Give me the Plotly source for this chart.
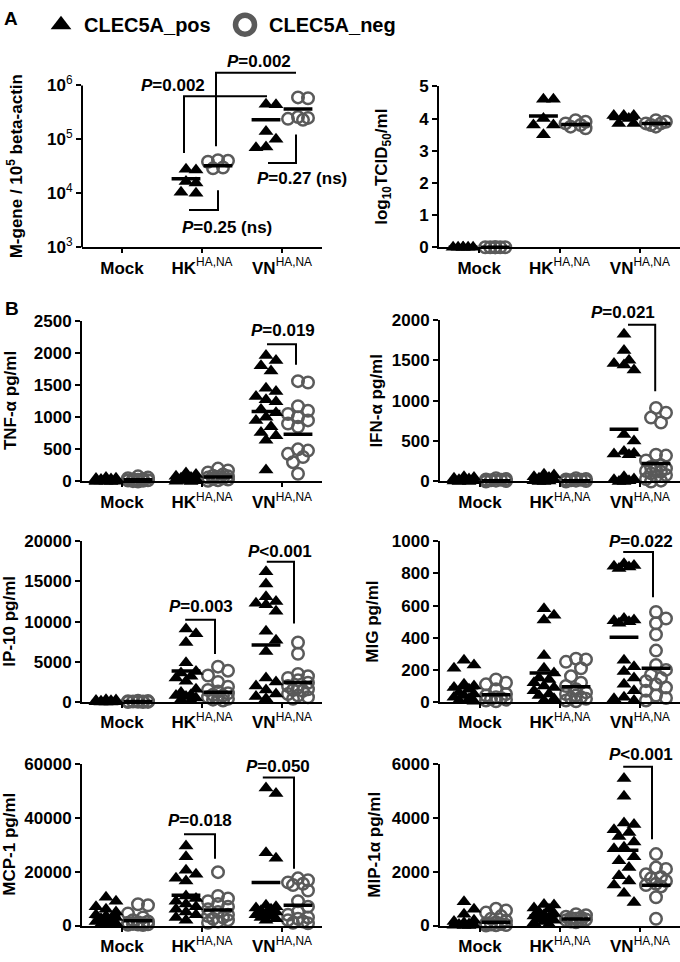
import math
import plotly.graph_objects as go

# ---------------- data ----------------
categories = ["Mock", "HK<sup><span style='font-weight:normal'>HA,NA</span></sup>",
              "VN<sup><span style='font-weight:normal'>HA,NA</span></sup>"]
series_names = ["CLEC5A_pos", "CLEC5A_neg"]

# A: M-gene / 10^5 beta-actin (log axis)
mgene_pos = [[], [28000, 27000, 16500, 15500, 10500, 10000],
             [450000, 440000, 140000, 100000, 72000, 70000]]
mgene_neg = [[], [41000, 40000, 38500, 30000, 29000],
             [600000, 580000, 260000, 250000, 240000, 230000]]
mgene_pos_mean = [None, 18700, 230000]
mgene_neg_mean = [None, 32500, 365000]

# A: log10 TCID50/ml
tcid_pos = [[0, 0, 0, 0, 0, 0], [4.6, 4.6, 4.0, 3.8, 3.8, 3.5], [4.1, 4.1, 4.1, 4.0, 3.85, 3.85]]
tcid_neg = [[0, 0, 0, 0, 0, 0], [3.95, 3.9, 3.85, 3.75, 3.7, 3.8], [3.95, 3.9, 3.85, 3.8, 3.75, 3.85]]
tcid_pos_mean = [0, 4.08, 4.0]
tcid_neg_mean = [0, 3.82, 3.85]

# B: TNF-alpha
tnf_pos = [[60, 50, 45, 40, 30, 25, 20, 15, 10, 8, 5, 3, 0, 0],
           [130, 110, 80, 60, 50, 45, 40, 30, 25, 20, 15, 10, 5, 0],
           [1960, 1880, 1800, 1720, 1450, 1400, 1320, 1270, 1240, 1120, 1070, 1000, 950, 850, 760, 710, 640, 180]]
tnf_neg = [[80, 60, 50, 40, 30, 25, 20, 15, 10, 5, 0],
           [200, 170, 140, 110, 90, 80, 70, 60, 50, 40, 30, 20, 10],
           [1560, 1540, 1170, 1100, 1050, 1000, 950, 900, 850, 500, 480, 430, 380, 300, 120]]
tnf_pos_mean = [20, 50, 1090]
tnf_neg_mean = [25, 70, 735]

# B: IFN-alpha
ifn_pos = [[60, 50, 40, 30, 20, 15, 10, 5, 0, 0],
           [90, 80, 60, 50, 40, 30, 20, 10, 5, 0, 0],
           [1820, 1620, 1500, 1460, 1440, 1380, 580, 500, 370, 350, 340, 330, 60, 30, 20, 10, 0, 0]]
ifn_neg = [[40, 30, 25, 20, 15, 10, 5, 0],
           [40, 30, 25, 20, 15, 10, 5, 0],
           [910, 850, 790, 730, 330, 320, 260, 200, 180, 160, 150, 130, 120, 100, 80, 60, 30, 10, 0]]
ifn_pos_mean = [10, 15, 646]
ifn_neg_mean = [10, 10, 222]

# B: IP-10
ip10_pos = [[300, 250, 200, 150, 100, 80, 50, 30, 20, 10, 0],
            [9100, 8500, 7400, 4900, 3800, 3600, 3200, 3000, 2600, 1600, 1200, 900, 800, 700, 500, 300, 200],
            [16200, 14700, 13100, 12500, 12300, 12100, 11300, 8800, 7700, 6300, 3000, 2500, 2000, 1500, 1000, 700, 400]]
ip10_neg = [[150, 120, 100, 80, 60, 40, 20, 10, 0],
            [4400, 3900, 3300, 2500, 1900, 1500, 1300, 1100, 900, 800, 600, 500, 400, 300, 200],
            [7400, 6000, 3500, 3200, 3000, 2700, 2400, 2000, 1800, 1600, 1500, 1400, 1000, 800, 600, 400]]
ip10_pos_mean = [80, 3860, 7100]
ip10_neg_mean = [60, 1220, 2440]

# B: MIG
mig_pos = [[260, 230, 210, 110, 100, 90, 80, 60, 50, 40, 30, 20, 10, 5],
           [580, 540, 510, 290, 210, 180, 150, 140, 120, 100, 90, 70, 50, 40, 20, 10],
           [860, 850, 845, 840, 830, 520, 510, 505, 500, 490, 260, 220, 190, 150, 110, 70, 30, 20, 10]]
mig_neg = [[140, 120, 110, 80, 50, 40, 30, 25, 20, 15, 10, 5],
           [270, 265, 250, 210, 160, 120, 100, 80, 60, 50, 40, 30, 25, 20, 10, 5],
           [560, 520, 490, 420, 320, 230, 200, 170, 150, 130, 110, 90, 70, 40, 25, 10]]
mig_pos_mean = [89, 180, 403]
mig_neg_mean = [45, 95, 210]

# B: MCP-1
mcp_pos = [[10500, 9000, 7000, 6000, 5000, 4000, 3500, 3000, 2500, 2000, 1500, 1000, 800, 500, 300],
           [29500, 25500, 20500, 19000, 17500, 16500, 11000, 10000, 9000, 8000, 7000, 6000, 5000, 4000, 3000, 2000],
           [51000, 49000, 27000, 25000, 7500, 7000, 6500, 6000, 5500, 5000, 4500, 4000, 3500, 3000, 2500, 2000]]
mcp_neg = [[7900, 7500, 4500, 3000, 2000, 1500, 1200, 1000, 800, 600, 500, 400, 300, 200],
           [19800, 11000, 10000, 9000, 8000, 7000, 6000, 5000, 4000, 3500, 3000, 2500, 2000, 1500, 1000],
           [17500, 16800, 16000, 15500, 15000, 13000, 9000, 7000, 5000, 4000, 3000, 2500, 2000, 1500, 1000, 800]]
mcp_pos_mean = [3300, 11200, 16000]
mcp_neg_mean = [1800, 5800, 7500]

# B: MIP-1alpha
mip_pos = [[880, 600, 420, 200, 150, 100, 60, 40, 20, 10, 0, 0],
           [780, 760, 650, 600, 500, 450, 400, 350, 300, 250, 200, 150, 100, 50],
           [5450, 4800, 3800, 3750, 3550, 3450, 3300, 3100, 2900, 2850, 2550, 2400, 2150, 1850, 1650, 1500, 1200, 850]]
mip_neg = [[620, 560, 480, 350, 250, 180, 120, 80, 60, 40, 20, 10, 0],
           [420, 380, 330, 300, 280, 250, 220, 200, 180, 150, 120],
           [2650, 2150, 2100, 1900, 1800, 1750, 1650, 1550, 1500, 1450, 1050, 250]]
mip_pos_mean = [97, 364, 2790]
mip_neg_mean = [121, 242, 1490]

# ---------------- layout geometry ----------------
W, H = 680, 962
FONT = "Liberation Sans, Arial, Helvetica, sans-serif"
GRAY = "#5a5a5a"
PX_PER_CAT = 80.0
X_RANGE = [-0.5, 2.5]

panels = [
    dict(pos=mgene_pos, neg=mgene_neg, pm=mgene_pos_mean, nm=mgene_neg_mean, log=True,
         x=(82, 322), y=(53, 243), axis_top=78, range=[3, 3 + (243 - 53) / 55.0],
         tickvals=[1e3, 1e4, 1e5, 1e6],
         ticktext=["10<sup><span style='font-weight:normal'>%d</span></sup>" % k for k in (3, 4, 5, 6)],
         title="M-gene / 10<sup>5</sup> beta-actin", tx=15,
         brackets=[([0.775, 0.775, 1.8125], [10**4.745, 10**5.8, 10**5.8]),
                   ([1.175, 1.175, 2.175], [10**4.873, 10**6.236, 10**6.236]),
                   ([1.825, 2.175, 2.175], [10**4.564, 10**4.564, 10**5.09]),
                   ([0.8375, 1.2, 1.2], [10**3.69, 10**3.69, 10**4.055])],
         ptexts=[("<i>P</i>=0.002", 0.6375, 10**6.0), ("<i>P</i>=0.002", 1.7125, 10**6.436),
                 ("<i>P</i>=0.27 (ns)", 2.25, 10**4.27), ("<i>P</i>=0.25 (ns)", 1.3125, 10**3.36)]),
    dict(pos=tcid_pos, neg=tcid_neg, pm=tcid_pos_mean, nm=tcid_neg_mean, log=False,
         x=(439, 680), y=(79, 243), range=[0, 5], dtick=1,
         title="log<sub>10</sub>TCID<sub>50</sub>/ml", tx=383, brackets=[], ptexts=[]),
    dict(pos=tnf_pos, neg=tnf_neg, pm=tnf_pos_mean, nm=tnf_neg_mean, log=False,
         x=(82, 322), y=(318, 482), range=[0, 2500], dtick=500, title="TNF-α pg/ml", tx=10,
         brackets=[([1.8125, 2.175, 2.175], [2134, 2134, 1814])],
         ptexts=[("<i>P</i>=0.019", 2.01, 2348)]),
    dict(pos=ifn_pos, neg=ifn_neg, pm=ifn_pos_mean, nm=ifn_neg_mean, log=False,
         x=(440, 680), y=(317, 482), range=[0, 2000], dtick=500, title="IFN-α pg/ml", tx=377,
         brackets=[([1.85, 2.19, 2.19], [1939, 1939, 1115])],
         ptexts=[("<i>P</i>=0.021", 1.79, 2085)]),
    dict(pos=ip10_pos, neg=ip10_neg, pm=ip10_pos_mean, nm=ip10_neg_mean, log=False,
         x=(82, 322), y=(543, 707), range=[0, 20000], dtick=5000, title="IP-10 pg/ml", tx=10,
         brackets=[([0.79, 1.1625, 1.1625], [10244, 10244, 5976]),
                   ([1.81, 2.15, 2.15], [17439, 17439, 9756])],
         ptexts=[("<i>P</i>=0.003", 0.99, 11829), ("<i>P</i><0.001", 1.975, 18780)]),
    dict(pos=mig_pos, neg=mig_neg, pm=mig_pos_mean, nm=mig_neg_mean, log=False,
         x=(440, 680), y=(543, 707), range=[0, 1000], dtick=200, title="MIG pg/ml", tx=373,
         brackets=[([1.79, 2.1625, 2.1625], [933, 933, 652])],
         ptexts=[("<i>P</i>=0.022", 2.01, 1000)]),
    dict(pos=mcp_pos, neg=mcp_neg, pm=mcp_pos_mean, nm=mcp_neg_mean, log=False,
         x=(82, 322), y=(770, 935), range=[0, 60000], dtick=20000, title="MCP-1 pg/ml", tx=10,
         brackets=[([0.775, 1.1625, 1.1625], [33818, 33818, 24727]),
                   ([1.76, 2.15, 2.15], [54909, 54909, 21090])],
         ptexts=[("<i>P</i>=0.018", 0.975, 38909), ("<i>P</i>=0.050", 1.95, 58909)]),
    dict(pos=mip_pos, neg=mip_neg, pm=mip_pos_mean, nm=mip_neg_mean, log=False,
         x=(440, 680), y=(770, 935), range=[0, 6000], dtick=2000, title="MIP-1α pg/ml", tx=375,
         brackets=[([1.79, 2.15, 2.15], [5890, 5890, 3200])],
         ptexts=[("<i>P</i><0.001", 2.01, 6327)]),
]


def swarm_offsets(vals, v2px, thresh, maxoff=10, step=5):
    """Deterministic beeswarm: horizontal pixel offsets so markers overlap little."""
    ys = [v2px(v) for v in vals]
    cands = [0]
    k = step
    while k <= maxoff:
        cands += [k, -k]
        k += step
    order = sorted(range(len(vals)), key=lambda i: (-vals[i], i))
    placed, offs = [], [0.0] * len(vals)
    for i in order:
        y = ys[i]
        chosen, best, bestd = None, 0, -1.0
        for o in cands:
            d = min([math.hypot(o - px, y - py) for px, py in placed] or [1e9])
            if d >= thresh:
                chosen = o
                break
            if d > bestd + 1e-9:
                bestd, best = d, o
        if chosen is None:
            chosen = best
        offs[i] = chosen
        placed.append((chosen, y))
    return offs


fig = go.Figure()
layout = dict(width=W, height=H, autosize=False, margin=dict(l=0, r=0, t=0, b=0),
              paper_bgcolor="white", plot_bgcolor="rgba(0,0,0,0)", showlegend=False,
              font=dict(family=FONT, size=17, color="black", weight="bold"))
annotations, shapes = [], []

for idx, p in enumerate(panels, start=1):
    xa, ya = "x%d" % idx, "y%d" % idx
    x0p, x1p = p["x"]
    ytp, ybp = p["y"]
    r0, r1 = p["range"]
    ppu = (ybp - ytp) / (r1 - r0)
    if p["log"]:
        v2px = lambda v, ppu=ppu: math.log10(v) * ppu
        to_ax = lambda v: math.log10(v)
    else:
        v2px = lambda v, ppu=ppu: v * ppu
        to_ax = lambda v: v
    xppu = (x1p - x0p) / (X_RANGE[1] - X_RANGE[0])

    for key, sub, thresh in (("neg", 0.2, 11), ("pos", -0.2, 11)):
        xs, ys = [], []
        for c, vals in enumerate(p[key]):
            if not vals:
                continue
            offs = swarm_offsets(vals, v2px, thresh)
            xs += [c + sub + o / xppu for o in offs]
            ys += list(vals)
        if key == "neg":
            marker = dict(symbol="circle", size=11.5, color="rgba(0,0,0,0)",
                          line=dict(color=GRAY, width=2.5))
        else:
            marker = dict(symbol="triangle-up", size=13, color="black", line=dict(width=0))
        fig.add_trace(go.Scatter(x=xs, y=ys, mode="markers", marker=marker, cliponaxis=False,
                                 name=series_names[0 if key == "pos" else 1],
                                 xaxis=xa, yaxis=ya, hoverinfo="skip"))

    # mean bars
    mx, my = [], []
    for key, sub in (("pm", -0.2), ("nm", 0.2)):
        for c, m in enumerate(p[key]):
            if m is None:
                continue
            mx += [c + sub - 0.18, c + sub + 0.18, None]
            my += [m, m, None]
    fig.add_trace(go.Scatter(x=mx, y=my, mode="lines", line=dict(color="black", width=3.5),
                             cliponaxis=False, xaxis=xa, yaxis=ya, hoverinfo="skip"))

    # significance brackets
    for bx, by in p["brackets"]:
        fig.add_trace(go.Scatter(x=bx, y=by, mode="lines", line=dict(color="black", width=2),
                                 xaxis=xa, yaxis=ya, hoverinfo="skip"))
    # p-value labels, converted from data position to paper position (may sit above the axis)
    for txt, tx, ty in p["ptexts"]:
        px_x = x0p + (tx - X_RANGE[0]) * xppu
        px_y = ybp - (to_ax(ty) - r0) * ppu
        annotations.append(dict(text=txt, x=px_x / W, y=1 - px_y / H, xref="paper", yref="paper",
                                showarrow=False, xanchor="center", yanchor="middle",
                                font=dict(family=FONT, size=17, color="black", weight="bold")))

    xaxis = dict(domain=[x0p / W, x1p / W], range=X_RANGE, anchor=ya,
                 tickmode="array", tickvals=[0, 1, 2], ticktext=categories,
                 ticks="outside", ticklen=4, tickwidth=1.5, tickcolor="black",
                 showline=True, linewidth=2, linecolor="black", showgrid=False, zeroline=False,
                 tickfont=dict(family=FONT, size=17, color="black", weight="bold"), fixedrange=True)
    yaxis = dict(domain=[1 - ybp / H, 1 - ytp / H], anchor=xa, ticks="outside", ticklen=5,
                 tickwidth=1.5, tickcolor="black", showgrid=False, zeroline=False,
                 linewidth=2, linecolor="black",
                 tickfont=dict(family=FONT, size=17, color="black", weight="bold"), fixedrange=True)
    if p["log"]:
        yaxis.update(type="log", range=p["range"], tickmode="array", tickvals=p["tickvals"],
                     ticktext=p["ticktext"], showline=False)
        shapes.append(dict(type="line", xref="paper", yref="paper", x0=x0p / W, x1=x0p / W,
                           y0=1 - ybp / H, y1=1 - p["axis_top"] / H,
                           line=dict(color="black", width=2)))
        ymid = (p["axis_top"] + ybp) / 2.0
    else:
        yaxis.update(type="linear", range=p["range"], tickmode="linear", tick0=0,
                     dtick=p["dtick"], tickformat="d", showline=True)
        ymid = (ytp + ybp) / 2.0
    layout["xaxis%d" % idx] = xaxis
    layout["yaxis%d" % idx] = yaxis

    annotations.append(dict(text=p["title"], x=p["tx"] / W, y=1 - ymid / H, xref="paper",
                            yref="paper", textangle=-90, showarrow=False, xanchor="center",
                            yanchor="middle",
                            font=dict(family=FONT, size=17, color="black", weight="bold")))

# legend glyphs on a full-figure overlay axis (pixel units)
fig.add_trace(go.Scatter(x=[61], y=[16], mode="markers", xaxis="x9", yaxis="y9",
                         marker=dict(symbol="triangle-up", size=18, color="black"),
                         cliponaxis=False, hoverinfo="skip"))
fig.add_trace(go.Scatter(x=[245], y=[16], mode="markers", xaxis="x9", yaxis="y9",
                         marker=dict(symbol="circle", size=19, color="rgba(0,0,0,0)",
                                     line=dict(color=GRAY, width=5.5)),
                         cliponaxis=False, hoverinfo="skip"))
layout["xaxis9"] = dict(domain=[0, 1], range=[0, W], visible=False, anchor="y9", fixedrange=True)
layout["yaxis9"] = dict(domain=[0, 1], range=[H, 0], visible=False, anchor="x9", fixedrange=True)

for txt, x in ((series_names[0], 82), (series_names[1], 267)):
    annotations.append(dict(text=txt, x=x / W, y=1 - 16 / H, xref="paper", yref="paper",
                            showarrow=False, xanchor="left", yanchor="middle",
                            font=dict(family=FONT, size=20, color="black", weight="bold")))
for txt, x, y in (("A", 11, 10), ("B", 12, 306)):
    annotations.append(dict(text=txt, x=x / W, y=1 - y / H, xref="paper", yref="paper",
                            showarrow=False, xanchor="center", yanchor="middle",
                            font=dict(family=FONT, size=19, color="black", weight="bold")))

layout["annotations"] = annotations
layout["shapes"] = shapes
fig.update_layout(**layout)
fig.write_html("out.html", config={"displayModeBar": False},
               post_script="document.body.style.margin='0px';document.body.style.overflow='hidden';")
